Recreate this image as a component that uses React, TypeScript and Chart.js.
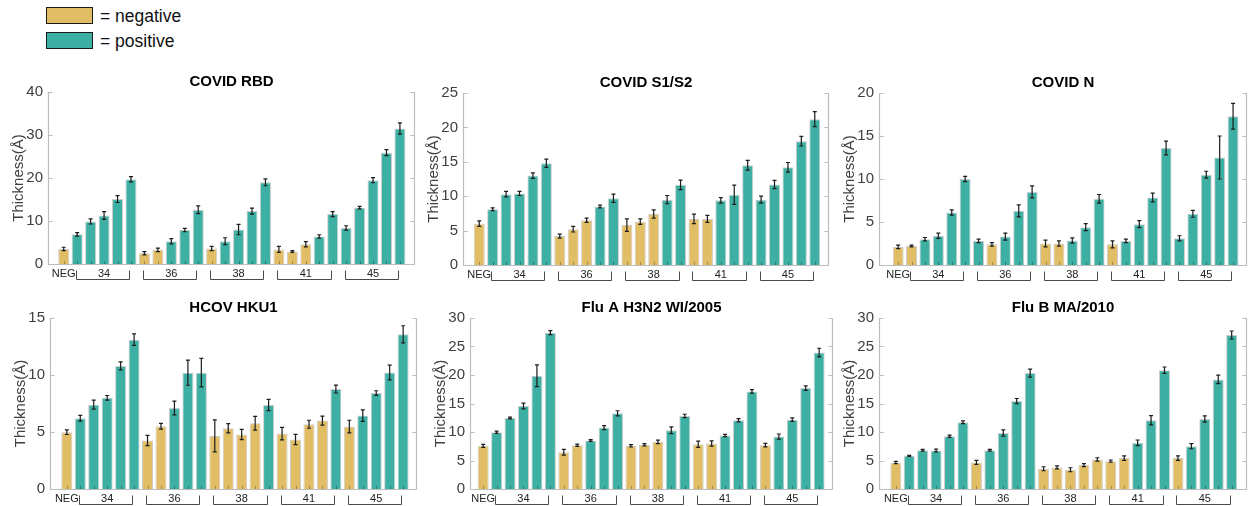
import React, { useEffect, useRef } from "react";
import { Chart, registerables } from "chart.js";

Chart.register(...registerables);

const FONT = "'Liberation Sans', Arial, Helvetica, sans-serif";
const GOLD = "#E1BE66";
const TEAL = "#3EAFA3";

// ---- categories / tick labels ----
const negLabel = "NEG";
const groupLabels = ["34", "36", "38", "41", "45"];
const barsPerGroup = 5;
const yAxisLabel = "Thickness(Å)";
const legendNeg = "= negative";
const legendPos = "= positive";

// ---- panel titles ----
const titles = ["COVID RBD", "COVID S1/S2", "COVID N", "HCOV HKU1", "Flu A H3N2 WI/2005", "Flu B MA/2010"];
const yMaxes = [40, 25, 20, 15, 30, 30];
const ySteps = [10, 5, 5, 5, 5, 5];

// ---- series: COVID RBD ----
const rbdValues = [3.5, 6.9, 9.9, 11.3, 15.1, 19.7, 2.5, 3.3, 5.3, 7.9, 12.6, 3.6, 5.3, 8.0, 12.3, 19.0, 3.4, 2.9, 4.6, 6.4, 11.6, 8.4, 13.1, 19.5, 25.9, 31.5];
const rbdErrors = [0.4, 0.4, 0.6, 0.9, 0.8, 0.6, 0.4, 0.4, 0.6, 0.4, 0.9, 0.5, 0.8, 1.2, 0.7, 0.8, 0.7, 0.2, 0.6, 0.4, 0.6, 0.5, 0.3, 0.6, 0.7, 1.3];
const rbdPositive = [0, 1, 1, 1, 1, 1, 0, 0, 1, 1, 1, 0, 1, 1, 1, 1, 0, 0, 0, 1, 1, 1, 1, 1, 1, 1];

// ---- series: COVID S1/S2 ----
const s1s2Values = [6.0, 8.1, 10.3, 10.4, 13.0, 14.8, 4.2, 5.2, 6.5, 8.5, 9.7, 5.8, 6.3, 7.4, 9.5, 11.65, 6.7, 6.7, 9.4, 10.2, 14.5, 9.5, 11.7, 14.2, 18.0, 21.2];
const s1s2Errors = [0.4, 0.2, 0.4, 0.3, 0.4, 0.6, 0.3, 0.4, 0.3, 0.2, 0.6, 0.9, 0.4, 0.6, 0.6, 0.7, 0.7, 0.5, 0.4, 1.4, 0.7, 0.5, 0.6, 0.7, 0.7, 1.1];
const s1s2Positive = [0, 1, 1, 1, 1, 1, 0, 0, 0, 1, 1, 0, 0, 0, 1, 1, 0, 0, 1, 1, 1, 1, 1, 1, 1, 1];

// ---- series: COVID N ----
const nValues = [2.1, 2.2, 3.0, 3.4, 6.1, 10.0, 2.8, 2.4, 3.3, 6.3, 8.5, 2.5, 2.5, 2.85, 4.4, 7.7, 2.4, 2.8, 4.75, 7.85, 13.6, 3.1, 5.95, 10.5, 12.5, 17.3];
const nErrors = [0.2, 0.1, 0.2, 0.3, 0.3, 0.3, 0.2, 0.2, 0.4, 0.7, 0.7, 0.4, 0.3, 0.3, 0.4, 0.5, 0.4, 0.2, 0.4, 0.5, 0.8, 0.3, 0.4, 0.4, 2.5, 1.5];
const nPositive = [0, 0, 1, 1, 1, 1, 1, 0, 1, 1, 1, 0, 0, 1, 1, 1, 0, 1, 1, 1, 1, 1, 1, 1, 1, 1];

// ---- series: HCOV HKU1 ----
const hku1Values = [4.98, 6.2, 7.4, 8.0, 10.8, 13.1, 4.25, 5.5, 7.1, 10.2, 10.2, 4.66, 5.33, 4.78, 5.77, 7.37, 4.86, 4.34, 5.68, 6.0, 8.77, 5.48, 6.44, 8.42, 10.22, 13.57];
const hku1Errors = [0.2, 0.25, 0.4, 0.2, 0.35, 0.5, 0.45, 0.25, 0.6, 1.1, 1.25, 1.4, 0.4, 0.45, 0.6, 0.5, 0.55, 0.45, 0.35, 0.4, 0.35, 0.55, 0.5, 0.2, 0.65, 0.75];
const hku1Positive = [0, 1, 1, 1, 1, 1, 0, 0, 1, 1, 1, 0, 0, 0, 0, 1, 0, 0, 0, 0, 1, 0, 1, 1, 1, 1];

// ---- series: Flu A H3N2 WI/2005 ----
const fluAValues = [7.57, 9.96, 12.46, 14.56, 19.86, 27.43, 6.46, 7.69, 8.5, 10.77, 13.28, 7.57, 7.75, 8.27, 10.31, 12.81, 7.86, 7.98, 9.38, 12.06, 17.12, 7.69, 9.2, 12.17, 17.7, 23.94];
const fluAErrors = [0.25, 0.2, 0.15, 0.5, 1.9, 0.35, 0.5, 0.2, 0.15, 0.35, 0.45, 0.2, 0.2, 0.3, 0.6, 0.3, 0.55, 0.45, 0.2, 0.3, 0.3, 0.3, 0.45, 0.3, 0.4, 0.75];
const fluAPositive = [0, 1, 1, 1, 1, 1, 0, 0, 1, 1, 1, 0, 0, 0, 1, 1, 0, 0, 1, 1, 1, 0, 1, 1, 1, 1];

// ---- series: Flu B MA/2010 ----
const fluBValues = [4.66, 5.82, 6.81, 6.76, 9.26, 11.71, 4.66, 6.81, 9.84, 15.43, 20.33, 3.55, 3.79, 3.38, 4.19, 5.18, 4.89, 5.42, 8.1, 12.06, 20.85, 5.42, 7.51, 12.29, 19.22, 27.02];
const fluBErrors = [0.2, 0.1, 0.15, 0.25, 0.2, 0.25, 0.35, 0.15, 0.55, 0.45, 0.7, 0.35, 0.25, 0.35, 0.25, 0.3, 0.2, 0.4, 0.5, 0.8, 0.55, 0.4, 0.45, 0.55, 0.75, 0.7];
const fluBPositive = [0, 1, 1, 1, 1, 1, 0, 1, 1, 1, 1, 0, 0, 0, 0, 0, 0, 0, 1, 1, 1, 0, 1, 1, 1, 1];

const allValues = [rbdValues, s1s2Values, nValues, hku1Values, fluAValues, fluBValues];
const allErrors = [rbdErrors, s1s2Errors, nErrors, hku1Errors, fluAErrors, fluBErrors];
const allPositive = [rbdPositive, s1s2Positive, nPositive, hku1Positive, fluAPositive, fluBPositive];

// ---- layout of the six panels (canvas box, right padding, x range) ----
const panelLayout = [
  { left: 0, top: 64, width: 419, height: 226, padRight: 4, xMin: -0.17, xMax: 27.12 },
  { left: 415, top: 65, width: 418, height: 226, padRight: 4, xMin: -0.21, xMax: 27.06 },
  { left: 831, top: 65, width: 418, height: 226, padRight: 2, xMin: -0.43, xMax: 27.04 },
  { left: 2, top: 290, width: 419, height: 225, padRight: 4, xMin: -0.25, xMax: 27.03 },
  { left: 422, top: 290, width: 415, height: 225, padRight: 4, xMin: 0.02, xMax: 27.03 },
  { left: 831, top: 290, width: 418, height: 225, padRight: 2, xMin: -0.25, xMax: 27.14 },
];

// tick positions: NEG at bar 1, each group label at the centre of its 5 bars
const groupStart = (g: number) => 2 + g * barsPerGroup;
const xTickValues = [1, ...groupLabels.map((_, g) => groupStart(g) + (barsPerGroup - 1) / 2)];
const xTickText = [negLabel, ...groupLabels];

function makeDecor(errors: number[]) {
  return {
    id: "decor",
    afterDatasetsDraw(chart: any) {
      const { ctx, chartArea, scales } = chart;
      const xs = scales.x;
      const ys = scales.y;
      const vals = chart.data.datasets[0].data;
      ctx.save();
      // error bars
      ctx.strokeStyle = "#1c1c1c";
      ctx.lineWidth = 1.2;
      vals.forEach((d: any, i: number) => {
        const x = xs.getPixelForValue(d.x);
        const yHi = ys.getPixelForValue(d.y + errors[i]);
        const yLo = ys.getPixelForValue(d.y - errors[i]);
        ctx.beginPath();
        ctx.moveTo(x, yHi);
        ctx.lineTo(x, yLo);
        ctx.moveTo(x - 2, yHi);
        ctx.lineTo(x + 2, yHi);
        ctx.moveTo(x - 2, yLo);
        ctx.lineTo(x + 2, yLo);
        ctx.stroke();
      });
      // small x ticks (inward)
      ctx.strokeStyle = "rgba(0,0,0,0.28)";
      ctx.lineWidth = 1;
      vals.forEach((d: any) => {
        const x = Math.round(xs.getPixelForValue(d.x)) + 0.5;
        ctx.beginPath();
        ctx.moveTo(x, chartArea.bottom);
        ctx.lineTo(x, chartArea.bottom - 3);
        ctx.stroke();
      });
      // axis lines
      const L = Math.round(chartArea.left) + 0.5;
      const R = Math.round(chartArea.right) - 0.5;
      const B = Math.round(chartArea.bottom) + 0.5;
      const T = Math.round(chartArea.top);
      ctx.strokeStyle = "#bdbdbd";
      ctx.lineWidth = 1.2;
      ctx.beginPath();
      ctx.moveTo(L, T);
      ctx.lineTo(L, B);
      ctx.lineTo(R, B);
      ctx.lineTo(R, T);
      ctx.stroke();
      // y ticks inward on both sides
      ys.ticks.forEach((t: any) => {
        const y = Math.round(ys.getPixelForValue(t.value)) + 0.5;
        ctx.beginPath();
        ctx.moveTo(L, y);
        ctx.lineTo(L + 4, y);
        ctx.moveTo(R, y);
        ctx.lineTo(R - 4, y);
        ctx.stroke();
      });
      // group brackets under the axis
      ctx.strokeStyle = "#4a4a4a";
      ctx.lineWidth = 1;
      groupLabels.forEach((_, g) => {
        const x1 = Math.round(xs.getPixelForValue(groupStart(g)) - 1.5) + 0.5;
        const x2 = Math.round(xs.getPixelForValue(groupStart(g) + barsPerGroup - 1) - 2) + 0.5;
        const yTop = chartArea.bottom + 6.5;
        const yBot = chartArea.bottom + 15.5;
        ctx.beginPath();
        ctx.moveTo(x1, yTop);
        ctx.lineTo(x1, yBot);
        ctx.lineTo(x2, yBot);
        ctx.lineTo(x2, yTop);
        ctx.stroke();
      });
      ctx.restore();
    },
  };
}

function Panel({ index }: { index: number }) {
  const ref = useRef<HTMLCanvasElement | null>(null);
  const lay = panelLayout[index];
  useEffect(() => {
    if (!ref.current) return;
    const values = allValues[index];
    const positive = allPositive[index];
    const chart = new Chart(ref.current, {
      type: "bar",
      data: {
        datasets: [
          {
            data: values.map((v, i) => ({ x: i + 1, y: v })),
            backgroundColor: positive.map((p) => (p ? TEAL : GOLD)),
            borderColor: "rgba(200,200,200,0.9)",
            borderWidth: 1,
            barPercentage: 0.82,
            categoryPercentage: 1,
          },
        ],
      },
      options: {
        animation: false,
        responsive: false,
        devicePixelRatio: 1,
        layout: { padding: { left: 0, right: lay.padRight, top: 0, bottom: 0 } },
        plugins: {
          legend: { display: false },
          tooltip: { enabled: false },
          title: {
            display: true,
            text: titles[index],
            fullSize: false,
            color: "#000",
            font: { family: FONT, size: 15, weight: "bold" },
            padding: { top: 9, bottom: 1 },
          },
        },
        scales: {
          x: {
            type: "linear",
            min: lay.xMin,
            max: lay.xMax,
            offset: false,
            grid: { display: false, drawTicks: false },
            border: { display: false },
            afterBuildTicks: (s: any) => {
              s.ticks = xTickValues.map((v) => ({ value: v }));
            },
            ticks: {
              autoSkip: false,
              maxRotation: 0,
              padding: 3,
              color: "#222",
              font: { family: FONT, size: 11 },
              callback: (v: any) => {
                const k = xTickValues.indexOf(Number(v));
                return k >= 0 ? xTickText[k] : "";
              },
            },
            afterFit: (s: any) => {
              s.height = 26;
            },
          },
          y: {
            min: 0,
            max: yMaxes[index],
            grid: { display: false, drawTicks: false },
            border: { display: false },
            ticks: {
              stepSize: ySteps[index],
              padding: 5,
              color: "#404040",
              font: { family: FONT, size: 15 },
            },
            title: {
              display: true,
              text: yAxisLabel,
              color: "#404040",
              font: { family: FONT, size: 15 },
              padding: { top: 10, bottom: 0 },
            },
            afterFit: (s: any) => {
              s.width = 48;
            },
          },
        },
      } as any,
      plugins: [makeDecor(allErrors[index])],
    });
    return () => chart.destroy();
  }, [index]);
  return (
    <canvas
      ref={ref}
      width={lay.width}
      height={lay.height}
      style={{ position: "absolute", left: lay.left, top: lay.top, width: lay.width, height: lay.height }}
    />
  );
}

function LegendItem({ top, color, text }: { top: number; color: string; text: string }) {
  return (
    <div style={{ position: "absolute", left: 46, top, height: 17, display: "flex", alignItems: "center" }}>
      <div
        style={{
          width: 47,
          height: 17,
          boxSizing: "border-box",
          border: "1.5px solid #1a1a1a",
          background: color,
        }}
      />
      <span style={{ marginLeft: 7, marginTop: 2, fontFamily: FONT, fontSize: 17.5, color: "#111", lineHeight: "17px" }}>{text}</span>
    </div>
  );
}

export default function App() {
  return (
    <div
      style={{
        position: "absolute",
        left: 0,
        top: 0,
        width: 1249,
        height: 506,
        overflow: "hidden",
        background: "#fff",
      }}
    >
      <LegendItem top={7} color={GOLD} text={legendNeg} />
      <LegendItem top={32} color={TEAL} text={legendPos} />
      {panelLayout.map((_, i) => (
        <Panel key={i} index={i} />
      ))}
    </div>
  );
}
